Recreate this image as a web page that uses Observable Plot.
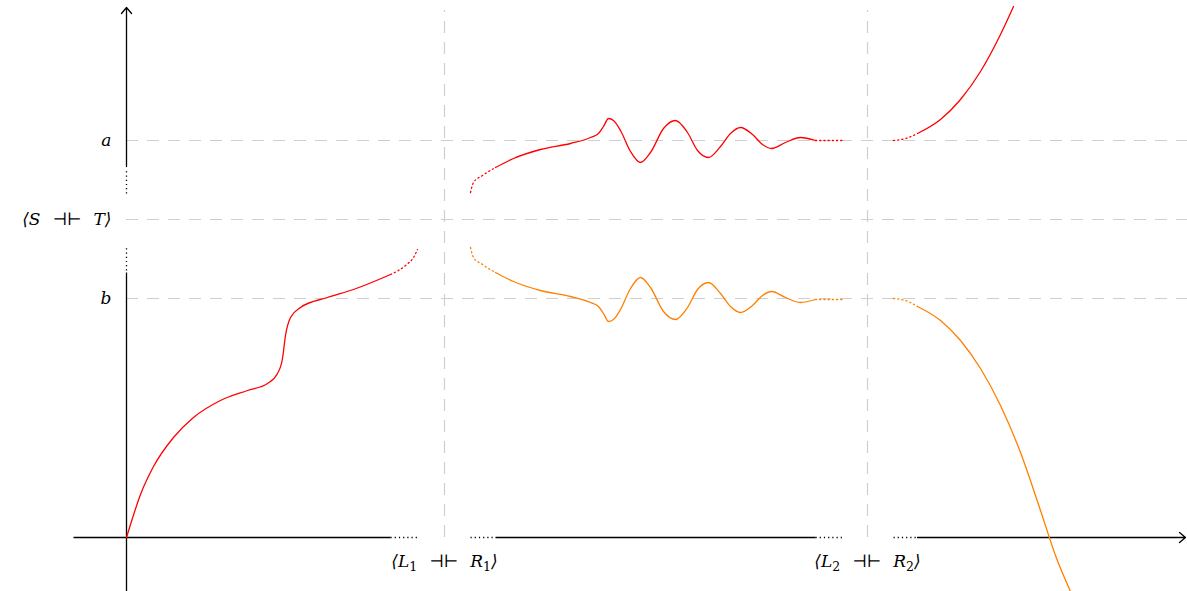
<!DOCTYPE html>
<html>
<head>
<meta charset="utf-8">
<script src="https://cdn.jsdelivr.net/npm/d3@7"></script>
<script src="https://cdn.jsdelivr.net/npm/@observablehq/plot@0.6"></script>
<style>
  html, body { margin: 0; padding: 0; background: #fff; }
  #chart svg { display: block; }
</style>
</head>
<body>
<div id="chart"></div>
<script>
// ---- data (units: origin at axes crossing, y up) ----
// Reference levels (horizontal) and breaks (vertical)
const hLevels = [397, 318, 239];           // a, <S -||- T>, b
const vBreaks = [318, 741];                // <L1 -||- R1>, <L2 -||- R2>
const yTickLabels = ["a", "⟨S\u2002\u2009⊣⊢\u2002\u2009T⟩", "b"];
const xTickLabels = ["⟨L₁\u2002\u2009⊣⊢\u2002\u2009R₁⟩", "⟨L₂\u2002\u2009⊣⊢\u2002\u2009R₂⟩"];

// Red curve, first part (solid then dotted)
const red1x = [0, 4, 14, 27, 47, 67, 94, 121, 141, 151, 156, 159, 164, 174, 201, 227, 264];
const red1y = [0, 13, 43, 71, 100, 120, 137, 147, 154, 164, 179, 202, 220, 230, 240, 248, 263];
const red1dx = [264, 279, 287, 291];
const red1dy = [263, 272, 280, 288];

// Middle section: red (upper) and orange (lower)
const midX = [369, 387, 414, 444, 464, 472, 477, 482, 487, 494, 504, 514, 524, 537, 549, 561, 571, 582, 594, 604, 614, 626, 636, 645, 659, 674, 689];
const red2y = [370, 379, 388, 394, 400, 404, 411, 419, 417, 407, 386, 375, 385, 409, 417, 405, 387, 380, 391, 404, 410, 403, 393, 389, 395, 400, 397];
const orange2y = [265, 256, 247, 241, 235, 231, 224, 216, 218, 228, 249, 260, 250, 226, 218, 230, 248, 255, 244, 231, 225, 232, 242, 246, 240, 235, 238];
const midStartX = [344, 347, 356, 369];
const red2StartY = [345, 355, 362, 370];
const orange2StartY = [290, 280, 273, 265];
const midEndX = [689, 716];
const red2EndY = [397, 397];
const orange2EndY = [238, 238];

// Right section
const rightStartX = [767, 779, 791];
const red3StartY = [397, 399, 404];
const orange3StartY = [239, 237, 231];
const red3x = [791, 814, 834, 854, 874, 887];
const red3y = [404, 418, 438, 466, 503, 531];
const orange3x = [791, 814, 834, 854, 874, 894, 914, 929, 944];
const orange3y = [231, 217, 197, 169, 132, 85, 27, -18, -54];

// Axis pieces
const axisSolid = [
  {x1: 0, y1: -54, x2: 0, y2: 265},
  {x1: -53, y1: 0, x2: 264, y2: 0},
  {x1: 369, y1: 0, x2: 689, y2: 0}
];
const axisArrows = [
  {x1: 0, y1: 371, x2: 0, y2: 530},
  {x1: 791, y1: 0, x2: 1059, y2: 0}
];
const axisDotted = [
  {x1: 0, y1: 267, x2: 0, y2: 292},
  {x1: 0, y1: 344, x2: 0, y2: 368},
  {x1: 264, y1: 0, x2: 291, y2: 0},
  {x1: 344, y1: 0, x2: 369, y2: 0},
  {x1: 689, y1: 0, x2: 716, y2: 0},
  {x1: 767, y1: 0, x2: 791, y2: 0}
];

// ---- build tables ----
const pts = (xs, ys) => xs.map((x, i) => ({x, y: ys[i]}));
const RED = "#ff0000", ORANGE = "#ff8000", GRAY = "#cfcfcf";
const DOT = "1.2,3";
const font = "DejaVu Serif";

const hData = hLevels.map((y, i) => ({y, label: yTickLabels[i]}));
const vData = vBreaks.map((x, i) => ({x, label: xTickLabels[i]}));

const chart = Plot.plot({
  width: 1187,
  height: 591,
  margin: 0,
  x: {domain: [-126, 1061], range: [0, 1187], axis: null},
  y: {domain: [-54, 537], range: [591, 0], axis: null},
  marks: [
    // gray dashed guides
    Plot.ruleY(hData, {y: "y", x1: 0, x2: 1061, stroke: GRAY, strokeWidth: 1.2, strokeDasharray: "12,9"}),
    Plot.ruleX(vData, {x: "x", y1: 0, y2: 527, stroke: GRAY, strokeWidth: 1.2, strokeDasharray: "12,9"}),
    // axes
    Plot.link(axisSolid, {x1: "x1", y1: "y1", x2: "x2", y2: "y2", stroke: "#000", strokeWidth: 1.3}),
    Plot.link(axisDotted, {x1: "x1", y1: "y1", x2: "x2", y2: "y2", stroke: "#000", strokeWidth: 1.3, strokeDasharray: DOT}),
    Plot.arrow(axisArrows, {x1: "x1", y1: "y1", x2: "x2", y2: "y2", stroke: "#000", strokeWidth: 1.3, headLength: 9, headAngle: 80}),
    // curves
    Plot.line(pts(red1x, red1y), {x: "x", y: "y", stroke: RED, strokeWidth: 1.3, curve: "monotone-x"}),
    Plot.line(pts(red1dx, red1dy), {x: "x", y: "y", stroke: RED, strokeWidth: 1.3, curve: "monotone-x", strokeDasharray: DOT}),
    Plot.line(pts(midStartX, red2StartY), {x: "x", y: "y", stroke: RED, strokeWidth: 1.3, curve: "monotone-x", strokeDasharray: DOT}),
    Plot.line(pts(midX, red2y), {x: "x", y: "y", stroke: RED, strokeWidth: 1.3, curve: "monotone-x"}),
    Plot.line(pts(midEndX, red2EndY), {x: "x", y: "y", stroke: RED, strokeWidth: 1.3, strokeDasharray: DOT}),
    Plot.line(pts(midStartX, orange2StartY), {x: "x", y: "y", stroke: ORANGE, strokeWidth: 1.3, curve: "monotone-x", strokeDasharray: DOT}),
    Plot.line(pts(midX, orange2y), {x: "x", y: "y", stroke: ORANGE, strokeWidth: 1.3, curve: "monotone-x"}),
    Plot.line(pts(midEndX, orange2EndY), {x: "x", y: "y", stroke: ORANGE, strokeWidth: 1.3, strokeDasharray: DOT}),
    Plot.line(pts(rightStartX, red3StartY), {x: "x", y: "y", stroke: RED, strokeWidth: 1.3, curve: "monotone-x", strokeDasharray: DOT}),
    Plot.line(pts(red3x, red3y), {x: "x", y: "y", stroke: RED, strokeWidth: 1.3, curve: "monotone-x"}),
    Plot.line(pts(rightStartX, orange3StartY), {x: "x", y: "y", stroke: ORANGE, strokeWidth: 1.3, curve: "monotone-x", strokeDasharray: DOT}),
    Plot.line(pts(orange3x, orange3y), {x: "x", y: "y", stroke: ORANGE, strokeWidth: 1.3, curve: "monotone-x"}),
    // labels
    Plot.text(hData, {x: -15, y: "y", text: "label", textAnchor: "end", fontSize: 17, fontStyle: "italic", fontFamily: font, fill: "#000"}),
    Plot.text(vData, {x: "x", y: -24, text: "label", textAnchor: "middle", fontSize: 17, fontStyle: "italic", fontFamily: font, fill: "#000"})
  ]
});

// render subscript digits as real lowered text (tspans)
const subMap = {"₀":"0","₁":"1","₂":"2","₃":"3","₄":"4","₅":"5","₆":"6","₇":"7","₈":"8","₉":"9"};
const NS = "http://www.w3.org/2000/svg";
chart.querySelectorAll("text").forEach(t => {
  const s = t.textContent;
  if (!/[₀-₉]/.test(s)) return;
  t.textContent = "";
  let runs = [], cur = null;
  for (const ch of s) {
    const sub = subMap[ch] !== undefined;
    if (!cur || cur.sub !== sub) { cur = {sub, text: ""}; runs.push(cur); }
    cur.text += sub ? subMap[ch] : ch;
  }
  let shifted = false;
  for (const r of runs) {
    const sp = document.createElementNS(NS, "tspan");
    sp.textContent = r.text;
    if (r.sub) {
      sp.setAttribute("font-size", "12.5");
      sp.setAttribute("font-style", "normal");
      sp.setAttribute("dy", "4");
      shifted = true;
    } else if (shifted) {
      sp.setAttribute("dy", "-4");
      shifted = false;
    }
    t.appendChild(sp);
  }
});
document.getElementById("chart").appendChild(chart);
</script>
</body>
</html>
